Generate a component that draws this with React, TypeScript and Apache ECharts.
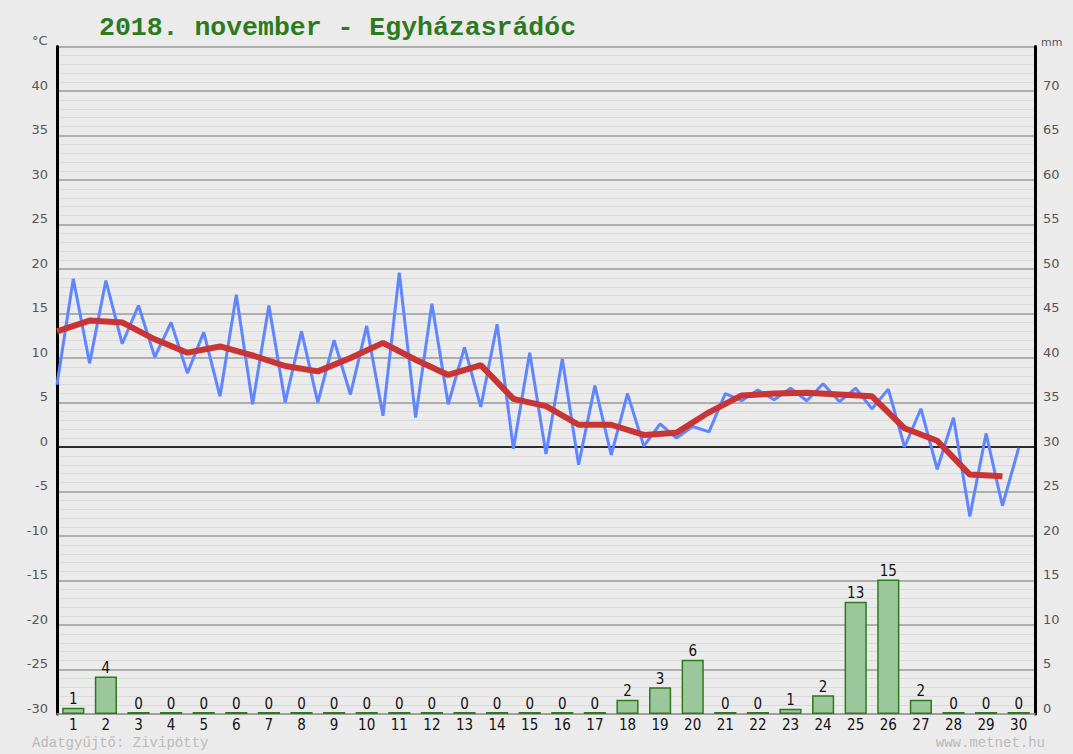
import React, { useEffect, useRef } from 'react';
import * as echarts from 'echarts';

const titleText = '2018. november - Egyházasrádóc';
const footerLeft = 'Adatgyűjtő: Zivipötty';
const footerRight = 'www.metnet.hu';

const days = ['1','2','3','4','5','6','7','8','9','10','11','12','13','14','15','16','17','18','19','20','21','22','23','24','25','26','27','28','29','30'];

// half-daily temperature readings (°C), two per day
const tempReadings = [
  7.0, 18.9, 9.4, 18.7, 11.6, 15.9, 10.1, 14.0, 8.3, 12.9,
  5.7, 17.1, 4.8, 15.9, 5.0, 13.0, 5.0, 12.0, 5.9, 13.6,
  3.5, 19.6, 3.3, 16.1, 4.8, 11.2, 4.5, 13.8, -0.2, 10.6,
  -0.8, 9.9, -2.0, 6.9, -0.9, 6.0, 0.1, 2.6, 1.0, 2.3,
  1.7, 6.0, 5.2, 6.4, 5.3, 6.6, 5.2, 7.1, 5.1, 6.6,
  4.3, 6.5, 0.0, 4.3, -2.5, 3.3, -7.8, 1.5, -6.6, -0.1,
];

// daily mean temperature (°C)
const tempMean = [
  13.0, 14.2, 14.0, 12.1, 10.6, 11.3, 10.3, 9.1, 8.5, 10.0,
  11.7, 9.8, 8.1, 9.2, 5.4, 4.6, 2.5, 2.5, 1.35, 1.6,
  3.9, 5.8, 6.0, 6.1, 5.9, 5.7, 2.1, 0.7, -3.1, -3.3,
];

// daily precipitation (mm)
const precip = [
  0.7, 4.2, 0, 0, 0, 0, 0, 0, 0, 0,
  0, 0, 0, 0, 0, 0, 0, 1.6, 3.0, 6.1,
  0, 0, 0.6, 2.1, 12.6, 15.1, 1.6, 0, 0, 0,
];

const tempMin = -30;
const tempMax = 45;
const mmMin = 0;
const mmMax = 75;
const tickStep = 5;

export default function App() {
  const ref = useRef<HTMLDivElement>(null);

  useEffect(() => {
    document.body.style.margin = '0';
    if (!ref.current) return;
    const chart = echarts.init(ref.current, null, { renderer: 'svg' });
    const labelFont = 'DejaVu Sans, sans-serif';
    const narrowFont = '"DejaVu Sans Condensed", "Liberation Sans Narrow", "DejaVu Sans", sans-serif';
    const monoFont = '"Liberation Mono", "DejaVu Sans Mono", monospace';
    chart.setOption({
      animation: false,
      backgroundColor: '#ebebeb',
      grid: { left: 57, right: 38, top: 46.5, bottom: 40, containLabel: false },
      graphic: [
        {
          type: 'text', left: 99, top: 14,
          style: { text: titleText, fill: '#2d7a1e', font: '600 26.5px ' + monoFont },
        },
        {
          type: 'text', left: 32, top: 34,
          style: { text: '°C', fill: '#555', font: '13px ' + labelFont },
        },
        {
          type: 'text', left: 1041, top: 37,
          style: { text: 'mm', fill: '#555', font: '11px ' + labelFont },
        },
        {
          type: 'text', left: 32, top: 736,
          style: { text: footerLeft, fill: '#bababa', font: '14px ' + monoFont },
        },
        {
          type: 'text', right: 28, top: 736,
          style: { text: footerRight, fill: '#bababa', font: '14px ' + monoFont },
        },
      ],
      xAxis: [
        {
          type: 'category',
          data: days,
          boundaryGap: true,
          position: 'bottom',
          axisLine: { show: true, onZero: false, lineStyle: { color: '#9a9a9a', width: 1.5 } },
          axisTick: { show: false },
          axisLabel: { color: '#111', fontSize: 15, fontFamily: narrowFont, margin: 3 },
          splitLine: { show: false },
          z: 0,
        },
        {
          type: 'value',
          min: 0,
          max: days.length,
          show: false,
        },
      ],
      yAxis: [
        {
          type: 'value',
          min: tempMin,
          max: tempMax,
          interval: tickStep,
          position: 'left',
          axisLine: { show: true, onZero: false, lineStyle: { color: '#000', width: 3 } },
          axisTick: { show: false },
          axisLabel: {
            color: '#555', fontSize: 13, fontFamily: labelFont, margin: 9,
            verticalAlign: 'bottom', lineHeight: 12,
            formatter: (v: number) => (v === tempMax ? '' : String(v)),
          },
          splitLine: { show: true, lineStyle: { color: '#9a9a9a', width: 1.5 } },
          minorTick: { show: false, splitNumber: 5 },
          minorSplitLine: { show: true, lineStyle: { color: '#dadada', width: 1 } },
        },
        {
          type: 'value',
          min: mmMin,
          max: mmMax,
          interval: tickStep,
          position: 'right',
          axisLine: { show: true, onZero: false, lineStyle: { color: '#000', width: 3 } },
          axisTick: { show: false },
          axisLabel: {
            color: '#555', fontSize: 13, fontFamily: labelFont, margin: 8,
            verticalAlign: 'bottom', lineHeight: 12,
            formatter: (v: number) => (v === mmMax ? '' : String(v)),
          },
          splitLine: { show: false },
        },
      ],
      series: [
        {
          type: 'bar',
          name: 'Csapadék',
          xAxisIndex: 0,
          yAxisIndex: 1,
          data: precip,
          barWidth: '68%',
          barMinHeight: 2,
          itemStyle: { color: '#9cc69b', borderColor: '#2d7a1e', borderWidth: 1.5 },
          label: {
            show: true, position: 'top', distance: 1, color: '#111', fontSize: 15,
            fontFamily: narrowFont,
            formatter: (p: any) => String(Math.round(p.value)),
          },
          z: 5,
        },
        {
          type: 'line',
          name: 'Hőmérséklet',
          xAxisIndex: 1,
          yAxisIndex: 0,
          data: tempReadings.map((v, i) => [i / 2, v]),
          symbol: 'none',
          lineStyle: { color: '#5f86ff', width: 3 },
          markLine: {
            silent: true,
            symbol: 'none',
            label: { show: false },
            lineStyle: { color: '#000', width: 1.5, type: 'solid' },
            data: [{ yAxis: 0 }],
          },
          z: 6,
        },
        {
          type: 'line',
          name: 'Napi átlag',
          xAxisIndex: 1,
          yAxisIndex: 0,
          data: tempMean.map((v, i) => [i, v]),
          symbol: 'none',
          lineStyle: { color: '#c93434', width: 6 },
          z: 7,
        },
      ],
    });
    return () => chart.dispose();
  }, []);

  return <div ref={ref} style={{ width: 1073, height: 754 }} />;
}
